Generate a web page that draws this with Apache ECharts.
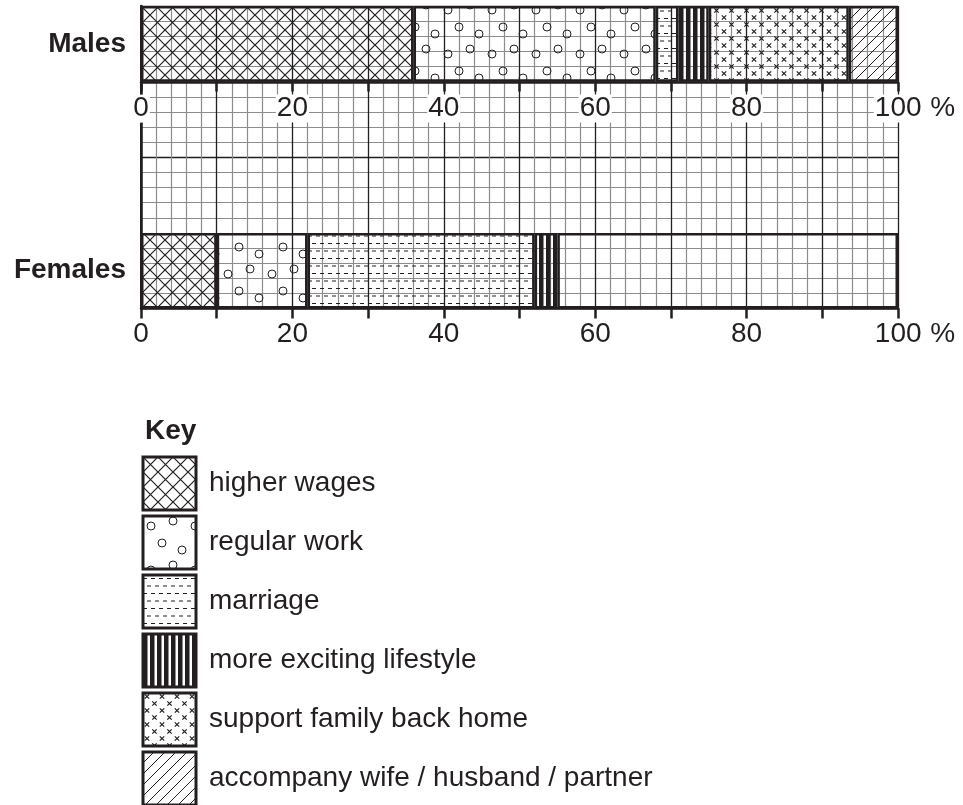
<!DOCTYPE html>
<html>
<head>
<meta charset="utf-8">
<script src="https://cdn.jsdelivr.net/npm/echarts@6/dist/echarts.min.js"></script>
<style>
  html, body { margin: 0; padding: 0; background: #fff; }
  #chart { width: 963px; height: 805px; }
</style>
</head>
<body>
<div id="chart"></div>
<script>
// bottom to top: the two empty bands make the gap between the bars
const rowLabels = ['Females', '', ' ', 'Males'];
const reasons = ['higher wages', 'regular work', 'marriage', 'more exciting lifestyle',
  'support family back home', 'accompany wife / husband / partner'];
const males = [36, 32, 3, 4, 18.5, 6.5];
const females = [10, 12, 30, 3, 0, 0];
const femalesUnfilled = 45;
const xTicks = [0, 20, 40, 60, 80, 100];

const ink = '#231f20';
const font = '"Liberation Sans", Arial, sans-serif';

function tile(w, h, draw) {
  const c = document.createElement('canvas');
  c.width = w; c.height = h;
  const ctx = c.getContext('2d');
  ctx.strokeStyle = ink; ctx.fillStyle = ink; ctx.lineWidth = 1.2;
  draw(ctx);
  return { image: c, repeat: 'repeat' };
}

const patterns = [
  // crosshatch
  tile(15, 15, ctx => {
    ctx.beginPath();
    ctx.moveTo(0, 0); ctx.lineTo(15, 15);
    ctx.moveTo(15, 0); ctx.lineTo(0, 15);
    ctx.stroke();
  }),
  // small circles
  tile(44, 44, ctx => {
    ctx.lineWidth = 1;
    [[8, 10], [30, 5], [19, 27], [39, 34]].forEach(p => {
      ctx.beginPath(); ctx.arc(p[0], p[1], 4, 0, Math.PI * 2); ctx.stroke();
    });
  }),
  // dashes
  tile(16, 15, ctx => {
    ctx.fillRect(0, 3, 4, 1); ctx.fillRect(8, 3, 4, 1);
    ctx.fillRect(4, 10.5, 4, 1); ctx.fillRect(12, 10.5, 4, 1);
  }),
  // vertical stripes
  tile(7, 7, ctx => { ctx.fillRect(0, 0, 4.5, 7); }),
  // small crosses
  tile(15, 14, ctx => {
    ctx.beginPath();
    [[4, 3.5], [11.5, 10.5]].forEach(p => {
      ctx.moveTo(p[0] - 2.2, p[1] - 2.2); ctx.lineTo(p[0] + 2.2, p[1] + 2.2);
      ctx.moveTo(p[0] + 2.2, p[1] - 2.2); ctx.lineTo(p[0] - 2.2, p[1] + 2.2);
    });
    ctx.stroke();
  }),
  // diagonal lines
  tile(11, 11, ctx => {
    ctx.lineWidth = 1;
    ctx.beginPath();
    ctx.moveTo(-1, 12); ctx.lineTo(12, -1);
    ctx.stroke();
  })
];

function row(m, f) {
  return [f === 0 ? '-' : f, '-', '-', m === 0 ? '-' : m];
}

const series = reasons.map((name, i) => ({
  name: name,
  type: 'bar',
  stack: 'all',
  barWidth: '100%',
  data: row(males[i], females[i]),
  itemStyle: { color: patterns[i], borderColor: ink, borderWidth: 2.5 }
}));
series.push({
  name: 'unfilled',
  type: 'bar',
  stack: 'all',
  barWidth: '100%',
  data: row(0, femalesUnfilled),
  itemStyle: { color: 'rgba(0,0,0,0)', borderColor: ink, borderWidth: 2.5 }
});

function tickLabel(v) {
  if (xTicks.indexOf(v) < 0) return '';
  return v === 100 ? '{pad| }{n|100}{p| %}' : '{n|' + v + '}';
}
function richFor(bg) {
  const base = { fontFamily: font, fontSize: 28, color: ink };
  return {
    n: Object.assign({ backgroundColor: bg, padding: [0, 1] }, base),
    pad: Object.assign({ width: 33 }, base),
    p: base
  };
}

const chart = echarts.init(document.getElementById('chart'));
chart.setOption({
  animation: false,
  title: {
    text: 'Key', left: 140, top: 412,
    textStyle: { fontFamily: font, fontSize: 28, fontWeight: 'bold', color: ink }
  },
  legend: {
    data: reasons,
    orient: 'vertical',
    left: 141.5, top: 455.5, height: 370,
    padding: 0,
    icon: 'rect',
    itemWidth: 53, itemHeight: 53, itemGap: 3,
    selectedMode: false,
    itemStyle: { borderColor: ink, borderWidth: 3 },
    textStyle: { fontFamily: font, fontSize: 28, color: ink, padding: [0, 0, 0, 8] }
  },
  grid: { left: 141, top: 6, width: 757, height: 302.5, outerBoundsMode: 'none' },
  xAxis: [
    {
      type: 'value', min: 0, max: 100, interval: 10, position: 'bottom',
      axisLine: { show: true, lineStyle: { color: ink, width: 2.5 } },
      axisTick: { show: true, length: 10, lineStyle: { color: ink, width: 2.5 } },
      axisLabel: { formatter: tickLabel, margin: 12, rich: richFor('transparent') },
      splitLine: { show: true, lineStyle: { color: ink, width: 1.3 } },
      minorTick: { show: false, splitNumber: 5 },
      minorSplitLine: { show: true, lineStyle: { color: '#8c8c8c', width: 1.2 } }
    },
    {
      type: 'value', min: 0, max: 100, interval: 10, position: 'top', offset: -76.6,
      z: 5,
      axisLine: { show: true, lineStyle: { color: ink, width: 2.5 } },
      axisTick: { show: true, inside: true, length: 9, lineStyle: { color: ink, width: 2.5 } },
      axisLabel: { inside: true, formatter: tickLabel, margin: 12, rich: richFor('#fff') },
      splitLine: { show: false }
    }
  ],
  yAxis: [
    {
      type: 'category', data: rowLabels,
      axisLine: { show: true, lineStyle: { color: ink, width: 2.5 } },
      axisTick: { show: false },
      axisLabel: { margin: 15, fontFamily: font, fontSize: 28, fontWeight: 'bold', color: ink },
      splitLine: { show: false }
    },
    {
      type: 'value', min: 0, max: 20, interval: 10, position: 'right',
      axisLine: { show: true, lineStyle: { color: ink, width: 2 } },
      axisTick: { show: false },
      axisLabel: { show: false },
      splitLine: { show: true, lineStyle: { color: ink, width: 1.3 } },
      minorTick: { show: false, splitNumber: 10 },
      minorSplitLine: { show: true, lineStyle: { color: '#8c8c8c', width: 1.2 } }
    }
  ],
  series: series
});
</script>
</body>
</html>
